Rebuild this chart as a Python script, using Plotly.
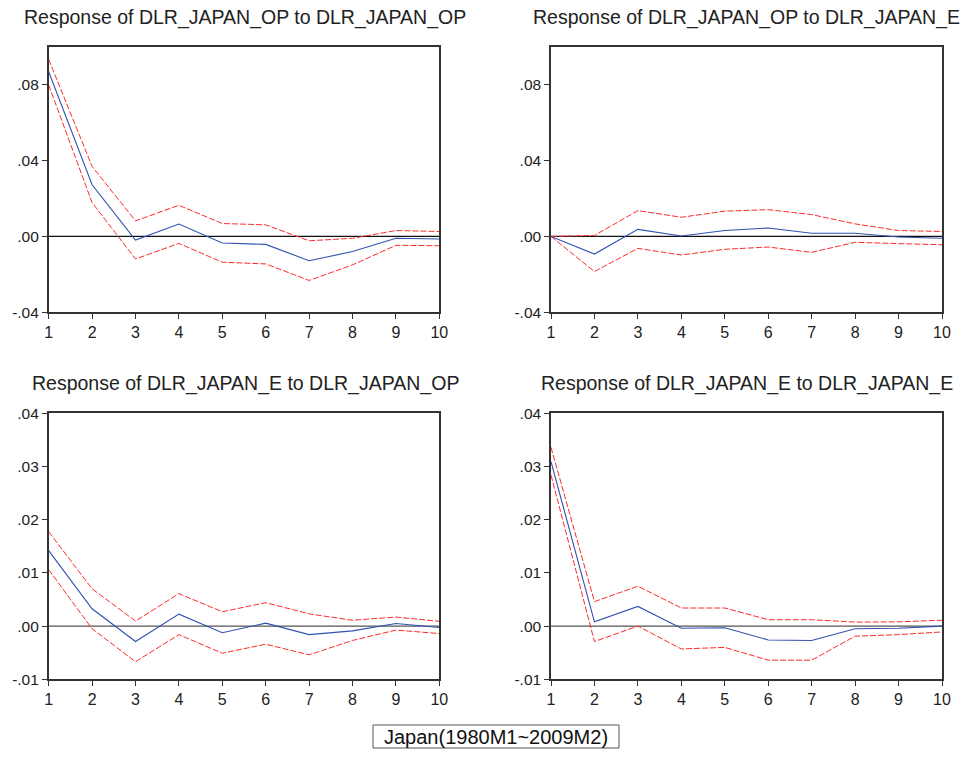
import plotly.graph_objects as go

periods = [1, 2, 3, 4, 5, 6, 7, 8, 9, 10]

titles = [
    "Response of DLR_JAPAN_OP to DLR_JAPAN_OP",
    "Response of DLR_JAPAN_OP to DLR_JAPAN_E",
    "Response of DLR_JAPAN_E to DLR_JAPAN_OP",
    "Response of DLR_JAPAN_E to DLR_JAPAN_E",
]

# Panel 1: OP -> OP
p1_mid = [0.0868, 0.0272, -0.0019, 0.0065, -0.0035, -0.0042, -0.0128, -0.0080, -0.0010, -0.0014]
p1_up = [0.0933, 0.0369, 0.0082, 0.0164, 0.0068, 0.0061, -0.0023, -0.0010, 0.0031, 0.0026]
p1_lo = [0.0798, 0.0178, -0.0119, -0.0037, -0.0136, -0.0145, -0.0232, -0.0150, -0.0047, -0.0049]

# Panel 2: OP -> E
p2_mid = [0.0, -0.0093, 0.0037, 0.0002, 0.0031, 0.0044, 0.0017, 0.0017, -0.0003, -0.0010]
p2_up = [0.0, 0.0005, 0.0136, 0.0101, 0.0133, 0.0141, 0.0115, 0.0066, 0.0031, 0.0026]
p2_lo = [0.0, -0.0185, -0.0063, -0.0098, -0.0068, -0.0056, -0.0084, -0.0031, -0.0038, -0.0044]

# Panel 3: E -> OP
p3_mid = [0.0142, 0.00325, -0.0029, 0.00225, -0.00125, 0.00056, -0.0016, -0.0009, 0.0005, -0.00025]
p3_up = [0.01775, 0.0070, 0.00094, 0.0061, 0.0027, 0.0044, 0.0023, 0.0011, 0.0017, 0.0009]
p3_lo = [0.0106, -0.0005, -0.0067, -0.0016, -0.0051, -0.0034, -0.0054, -0.0027, -0.00075, -0.0014]

# Panel 4: E -> E
p4_mid = [0.0309, 0.0008, 0.0037, -0.0004, -0.0003, -0.0026, -0.0027, -0.0005, -0.0004, 0.0]
p4_up = [0.0336, 0.0046, 0.0075, 0.0034, 0.0034, 0.0012, 0.0012, 0.00075, 0.0008, 0.0011]
p4_lo = [0.0284, -0.0029, 0.0, -0.0043, -0.0040, -0.0064, -0.0064, -0.0019, -0.0016, -0.0011]

top_ticks = [-0.04, 0.0, 0.04, 0.08]
top_labels = ["-.04", ".00", ".04", ".08"]
bot_ticks = [-0.01, 0.0, 0.01, 0.02, 0.03, 0.04]
bot_labels = ["-.01", ".00", ".01", ".02", ".03", ".04"]

caption = "Japan(1980M1~2009M2)"

W, H = 966, 758


def px(x):
    return x / W


def py(y):
    return 1 - y / H


panels = [
    dict(mid=p1_mid, up=p1_up, lo=p1_lo, box=(48.7, 439.3, 46.7, 312.3), yr=[-0.04, 0.10],
         tv=top_ticks, tt=top_labels, tx=245, ty=17, zc="#111111"),
    dict(mid=p2_mid, up=p2_up, lo=p2_lo, box=(551, 942, 46.7, 312.3), yr=[-0.04, 0.10],
         tv=top_ticks, tt=top_labels, tx=746, ty=17, zc="#111111"),
    dict(mid=p3_mid, up=p3_up, lo=p3_lo, box=(48.7, 439.3, 413.3, 679.3), yr=[-0.01, 0.04],
         tv=bot_ticks, tt=bot_labels, tx=245, ty=383, zc="#555555"),
    dict(mid=p4_mid, up=p4_up, lo=p4_lo, box=(551, 942, 413.3, 679.3), yr=[-0.01, 0.04],
         tv=bot_ticks, tt=bot_labels, tx=747, ty=383, zc="#555555"),
]

fig = go.Figure()
font = "Liberation Sans, Arial, sans-serif"
layout = dict(
    width=W, height=H, margin=dict(l=0, r=0, t=0, b=0, autoexpand=False),
    paper_bgcolor="white", plot_bgcolor="white", showlegend=False,
    font=dict(family=font, color="#222222", size=15),
    annotations=[], shapes=[],
)

for i, p in enumerate(panels):
    n = i + 1
    xa = "x" if n == 1 else f"x{n}"
    ya = "y" if n == 1 else f"y{n}"
    x0, x1, y0, y1 = p["box"]
    fig.add_trace(go.Scatter(x=[periods[0], periods[-1]], y=[0, 0], mode="lines",
                             line=dict(color=p["zc"], width=1.2), xaxis=xa, yaxis=ya,
                             hoverinfo="skip"))
    fig.add_trace(go.Scatter(x=periods, y=p["up"], mode="lines",
                             line=dict(color="#ff2a2a", width=1, dash="6px,2px"),
                             xaxis=xa, yaxis=ya))
    fig.add_trace(go.Scatter(x=periods, y=p["lo"], mode="lines",
                             line=dict(color="#ff2a2a", width=1, dash="6px,2px"),
                             xaxis=xa, yaxis=ya))
    fig.add_trace(go.Scatter(x=periods, y=p["mid"], mode="lines",
                             line=dict(color="#2f52b0", width=1.1),
                             xaxis=xa, yaxis=ya))
    xkey = "xaxis" if n == 1 else f"xaxis{n}"
    ykey = "yaxis" if n == 1 else f"yaxis{n}"
    layout[xkey] = dict(
        domain=[px(x0), px(x1)], anchor=ya, range=[1, 10], automargin=False,
        tickvals=periods, ticktext=[str(v) for v in periods],
        showgrid=False, zeroline=False, showline=True, mirror=True,
        linecolor="#333333", linewidth=1.5, ticks="outside", ticklen=5,
        tickcolor="#333333", tickfont=dict(size=16, color="#222222"),
    )
    layout[ykey] = dict(
        domain=[py(y1), py(y0)], anchor=xa, range=p["yr"], automargin=False,
        tickvals=p["tv"], ticktext=p["tt"],
        showgrid=False, zeroline=False, showline=True, mirror=True,
        linecolor="#333333", linewidth=1.5, ticks="outside", ticklen=5,
        tickcolor="#333333", tickfont=dict(size=15.5, color="#222222"),
    )
    layout["annotations"].append(dict(
        text=titles[i], x=px(p["tx"]), y=py(p["ty"]), xref="paper", yref="paper",
        xanchor="center", yanchor="middle", showarrow=False,
        font=dict(size=19.5, color="#222222", family=font),
    ))

layout["shapes"].append(dict(
    type="rect", xref="paper", yref="paper",
    x0=px(373), x1=px(619), y0=py(748), y1=py(725),
    line=dict(color="#555555", width=1), fillcolor="white",
))
layout["annotations"].append(dict(
    text=caption, x=px(496), y=py(737), xref="paper", yref="paper",
    xanchor="center", yanchor="middle", showarrow=False,
    font=dict(size=20, color="#111111", family=font),
))

fig.update_layout(**layout)
fig.write_html(
    "out.html",
    config={"displayModeBar": False},
    post_script="document.body.style.margin='0';document.body.style.overflow='hidden';",
)
